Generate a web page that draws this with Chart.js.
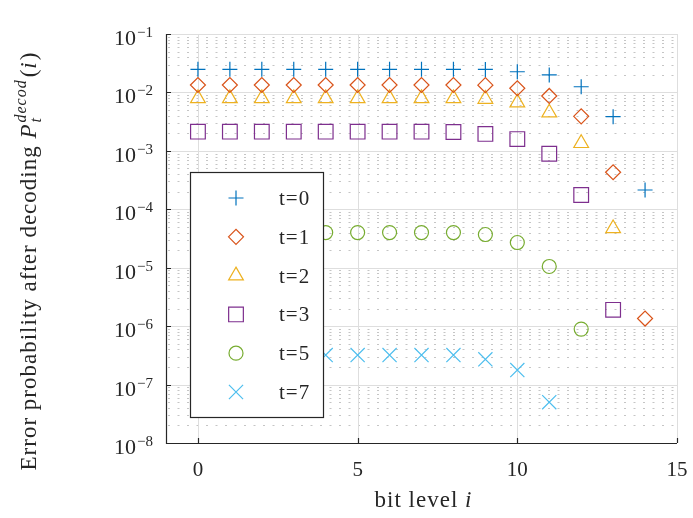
<!DOCTYPE html>
<html>
<head>
<meta charset="utf-8">
<script src="https://cdn.jsdelivr.net/npm/chart.js@4.4.0/dist/chart.umd.min.js"></script>
<style>
  html, body { margin: 0; padding: 0; background: #fff; }
  canvas { display: block; }
</style>
</head>
<body>
<canvas id="chart" width="693" height="518" style="width:693px;height:518px"></canvas>
<script>
// bit levels i
const bitLevels = [0, 1, 2, 3, 4, 5, 6, 7, 8, 9, 10, 11, 12, 13, 14];

// error probability after decoding, one array per t
const pT0 = [0.0249, 0.0249, 0.0249, 0.0249, 0.0249, 0.0249, 0.0249, 0.0249, 0.0249, 0.0248, 0.0226, 0.0199, 0.0125, 0.00385, 0.000214];
const pT1 = [0.0134, 0.0134, 0.0134, 0.0134, 0.0134, 0.0134, 0.0134, 0.0134, 0.0134, 0.0133, 0.0118, 0.0087, 0.0039, 0.00043, 1.35e-6];
const pT2 = [0.0079, 0.0079, 0.0079, 0.0079, 0.0079, 0.0079, 0.0079, 0.0079, 0.0079, 0.0077, 0.0067, 0.0045, 0.00135, 4.7e-5];
const pT3 = [0.00213, 0.00213, 0.00213, 0.00213, 0.00213, 0.00213, 0.00213, 0.00213, 0.0021, 0.00195, 0.00159, 0.00089, 0.000176, 1.9e-6];
const pT5 = [4.0e-5, 4.0e-5, 4.0e-5, 4.0e-5, 4.0e-5, 4.0e-5, 4.0e-5, 4.0e-5, 4.0e-5, 3.7e-5, 2.7e-5, 1.05e-5, 8.9e-7];
const pT7 = [3.2e-7, 3.2e-7, 3.2e-7, 3.2e-7, 3.2e-7, 3.2e-7, 3.2e-7, 3.2e-7, 3.2e-7, 2.7e-7, 1.77e-7, 5.0e-8];

const seriesLabels = ['t=0', 't=1', 't=2', 't=3', 't=5', 't=7'];
const seriesValues = [pT0, pT1, pT2, pT3, pT5, pT7];

// tick labels
const xTicks = [0, 5, 10, 15];
const yDecades = [-1, -2, -3, -4, -5, -6, -7, -8];

const colors = ['#0072BD', '#D95319', '#EDB120', '#7E2F8E', '#77AC30', '#4DBEEE'];
const markers = ['cross', 'rectRot', 'triangle', 'rect', 'circle', 'crossRot'];
const radii = [7.5, 7.5, 8.5, 10.4, 7, 10];

const FONT = "'Liberation Serif', 'DejaVu Serif', serif";
const AXIS_COLOR = '#262626';

const datasets = seriesValues.map((vals, k) => ({
    label: seriesLabels[k],
    data: vals.map((v, i) => ({ x: bitLevels[i], y: v })),
    pointStyle: markers[k],
    pointRadius: radii[k],
    pointBorderWidth: 1.2,
    pointBorderColor: colors[k],
    pointBackgroundColor: 'rgba(0,0,0,0)',
    showLine: false
}));

// grid lines behind the markers
const gridPlugin = {
    id: 'matlabGrid',
    beforeDatasetsDraw(chart) {
        const { ctx, chartArea: a, scales: { x, y } } = chart;
        ctx.save();
        // minor dotted horizontals
        ctx.strokeStyle = 'rgba(140,140,140,0.5)';
        ctx.lineWidth = 1;
        ctx.setLineDash([2, 7.5]);
        for (let e = -8; e < -1; e++) {
            for (let m = 2; m <= 9; m++) {
                const py = Math.round(y.getPixelForValue(m * Math.pow(10, e))) + 0.5;
                ctx.beginPath();
                ctx.moveTo(a.left + 2, py);
                ctx.lineTo(a.right, py);
                ctx.stroke();
            }
        }
        ctx.setLineDash([]);
        // major solid lines
        ctx.strokeStyle = '#dedede';
        yDecades.forEach(e => {
            const py = Math.round(y.getPixelForValue(Math.pow(10, e))) + 0.5;
            ctx.beginPath();
            ctx.moveTo(a.left, py);
            ctx.lineTo(a.right, py);
            ctx.stroke();
        });
        xTicks.forEach(v => {
            const px = Math.round(x.getPixelForValue(v)) + 0.5;
            ctx.beginPath();
            ctx.moveTo(px, a.top);
            ctx.lineTo(px, a.bottom);
            ctx.stroke();
        });
        ctx.restore();
    }
};

// draw a run of text pieces starting at x, returns end x
function drawRun(ctx, parts, x0, y0, measureOnly) {
    let cx = x0;
    parts.forEach(p => {
        ctx.font = p.f;
        if (!measureOnly) ctx.fillText(p.t, cx, y0 + (p.dy || 0));
        if (!p.stack) cx += ctx.measureText(p.t).width + (p.gap || 0);
    });
    return cx;
}

// axes, ticks, labels and legend box on top
const overlayPlugin = {
    id: 'matlabOverlay',
    afterDatasetsDraw(chart) {
        const { ctx, chartArea: a, scales: { x, y } } = chart;
        ctx.save();

        // left and bottom axis lines
        ctx.strokeStyle = AXIS_COLOR;
        ctx.lineWidth = 1.2;
        ctx.beginPath();
        ctx.moveTo(a.left + 0.5, a.top);
        ctx.lineTo(a.left + 0.5, a.bottom + 0.5);
        ctx.lineTo(a.right, a.bottom + 0.5);
        ctx.stroke();

        // inward ticks
        ctx.beginPath();
        yDecades.forEach(e => {
            const py = Math.round(y.getPixelForValue(Math.pow(10, e))) + 0.5;
            ctx.moveTo(a.left, py);
            ctx.lineTo(a.left + 5, py);
        });
        xTicks.forEach(v => {
            const px = Math.round(x.getPixelForValue(v)) + 0.5;
            ctx.moveTo(px, a.bottom);
            ctx.lineTo(px, a.bottom - 5);
        });
        ctx.stroke();

        // y tick labels 10^k
        ctx.fillStyle = AXIS_COLOR;
        ctx.textBaseline = 'alphabetic';
        ctx.textAlign = 'left';
        yDecades.forEach(e => {
            const py = y.getPixelForValue(Math.pow(10, e));
            const exp = '\u2212' + Math.abs(e);
            ctx.font = '15px ' + FONT;
            const we = ctx.measureText(exp).width;
            ctx.font = '22px ' + FONT;
            const wb = ctx.measureText('10').width;
            const right = 153;
            ctx.fillText('10', right - we - wb - 1, py + 11);
            ctx.font = '15px ' + FONT;
            ctx.fillText(exp, right - we, py + 3);
        });

        // x tick labels
        ctx.font = '21px ' + FONT;
        ctx.textAlign = 'center';
        xTicks.forEach(v => {
            ctx.fillText(String(v), x.getPixelForValue(v), 476);
        });
        ctx.textAlign = 'left';

        ctx.letterSpacing = '1px';

        // x axis title
        const xt = [
            { t: 'bit level ', f: '23px ' + FONT },
            { t: 'i', f: 'italic 23px ' + FONT }
        ];
        const wx = drawRun(ctx, xt, 0, 0, true);
        drawRun(ctx, xt, (a.left + a.right) / 2 + 2 - wx / 2, 507, false);

        // y axis title, rotated
        const yt = [
            { t: 'Error probability after decoding ', f: '23px ' + FONT },
            { t: 'P', f: 'italic 23px ' + FONT, gap: 1 },
            { t: 't', f: 'italic 16px ' + FONT, dy: 5, stack: true },
            { t: 'decod', f: 'italic 16px ' + FONT, dy: -10, gap: 2 },
            { t: '(', f: '23px ' + FONT },
            { t: 'i', f: 'italic 23px ' + FONT, gap: 1 },
            { t: ')', f: '23px ' + FONT }
        ];
        ctx.save();
        ctx.translate(36, 261);
        ctx.rotate(-Math.PI / 2);
        const wy = drawRun(ctx, yt, 0, 0, true);
        drawRun(ctx, yt, -wy / 2, 0, false);
        ctx.restore();

        // legend box
        const box = { left: 190, top: 172, right: 323, bottom: 417 };
        ctx.fillStyle = '#ffffff';
        ctx.fillRect(box.left, box.top, box.right - box.left, box.bottom - box.top);
        ctx.strokeStyle = AXIS_COLOR;
        ctx.lineWidth = 1.2;
        ctx.strokeRect(box.left + 0.5, box.top + 0.5, box.right - box.left, box.bottom - box.top);
        const rowStart = 198, rowStep = 38.8;
        chart.data.datasets.forEach((ds, k) => {
            const ry = rowStart + k * rowStep;
            ctx.save();
            ctx.strokeStyle = ds.pointBorderColor;
            ctx.fillStyle = 'rgba(0,0,0,0)';
            ctx.lineWidth = ds.pointBorderWidth;
            Chart.helpers.drawPoint(ctx, {
                pointStyle: ds.pointStyle,
                radius: ds.pointRadius,
                borderWidth: ds.pointBorderWidth,
                rotation: 0
            }, 236, ry);
            ctx.restore();
            ctx.fillStyle = AXIS_COLOR;
            ctx.font = '21px ' + FONT;
            ctx.fillText(ds.label, 279, ry + 7);
        });

        ctx.restore();
    }
};

new Chart(document.getElementById('chart').getContext('2d'), {
    type: 'scatter',
    data: { datasets },
    options: {
        responsive: false,
        animation: false,
        devicePixelRatio: 1,
        layout: { padding: { left: 166, right: 16, top: 34, bottom: 75 } },
        scales: {
            x: { type: 'linear', min: -1, max: 15, display: false },
            y: { type: 'logarithmic', min: 1e-8, max: 1e-1, display: false }
        },
        plugins: {
            legend: { display: false },
            tooltip: { enabled: false }
        }
    },
    plugins: [gridPlugin, overlayPlugin]
});
</script>
</body>
</html>
